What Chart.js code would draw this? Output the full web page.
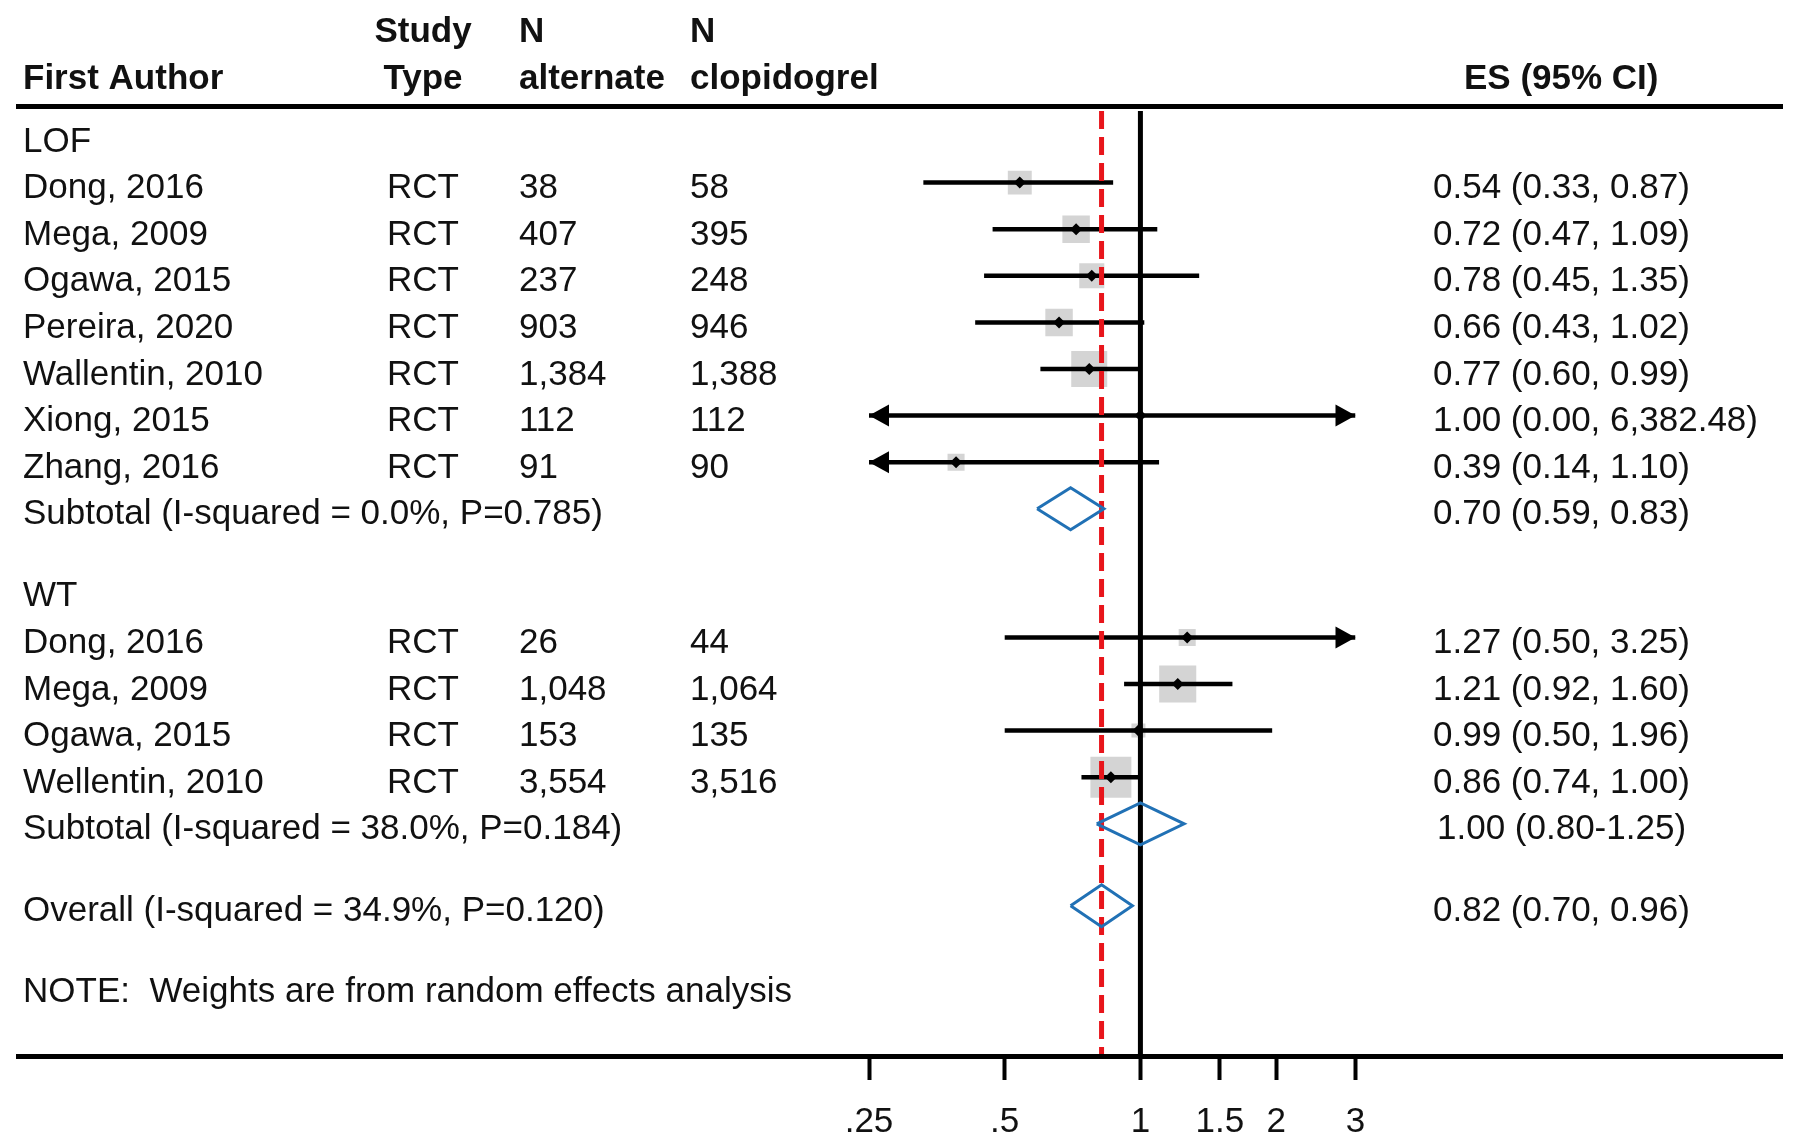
<!DOCTYPE html>
<html>
<head>
<meta charset="utf-8">
<script src="https://cdn.jsdelivr.net/npm/chart.js@4.4.1/dist/chart.umd.min.js"></script>
<style>
  html, body { margin: 0; padding: 0; background: #fff; }
  #wrap { position: relative; width: 1800px; height: 1148px; }
</style>
</head>
<body>
<div id="wrap"><canvas id="forest" width="1800" height="1148"></canvas></div>
<script>
// forest plot: alternate antiplatelet vs clopidogrel, by genotype (LOF / WT)

const GROUPS = ['LOF', 'WT'];

const AUTHORS = ['Dong, 2016', 'Mega, 2009', 'Ogawa, 2015', 'Pereira, 2020', 'Wallentin, 2010', 'Xiong, 2015', 'Zhang, 2016',
                 'Dong, 2016', 'Mega, 2009', 'Ogawa, 2015', 'Wellentin, 2010'];
const STUDY_GROUP = [0, 0, 0, 0, 0, 0, 0, 1, 1, 1, 1];
const STUDY_TYPE  = ['RCT', 'RCT', 'RCT', 'RCT', 'RCT', 'RCT', 'RCT', 'RCT', 'RCT', 'RCT', 'RCT'];
const N_ALT  = ['38', '407', '237', '903', '1,384', '112', '91', '26', '1,048', '153', '3,554'];
const N_CLOP = ['58', '395', '248', '946', '1,388', '112', '90', '44', '1,064', '135', '3,516'];
const ES     = [0.54, 0.72, 0.78, 0.66, 0.77, 1.00, 0.39, 1.27, 1.21, 0.99, 0.86];
const CI_LO  = [0.33, 0.47, 0.45, 0.43, 0.60, 0.00, 0.14, 0.50, 0.92, 0.50, 0.74];
const CI_HI  = [0.87, 1.09, 1.35, 1.02, 0.99, 6382.48, 1.10, 3.25, 1.60, 1.96, 1.00];
// % weights, estimated from the grey box areas
const WEIGHTS = [7.3, 9.6, 8.0, 9.6, 16.5, 0.1, 3.7, 3.7, 17.5, 2.5, 21.4];
const ES_TEXT = ['0.54 (0.33, 0.87)', '0.72 (0.47, 1.09)', '0.78 (0.45, 1.35)', '0.66 (0.43, 1.02)',
                 '0.77 (0.60, 0.99)', '1.00 (0.00, 6,382.48)', '0.39 (0.14, 1.10)',
                 '1.27 (0.50, 3.25)', '1.21 (0.92, 1.60)', '0.99 (0.50, 1.96)', '0.86 (0.74, 1.00)'];

const SUB_LABELS = ['Subtotal (I-squared = 0.0%, P=0.785)', 'Subtotal (I-squared = 38.0%, P=0.184)'];
const SUB_ES   = [0.70, 1.00];
const SUB_LO   = [0.59, 0.80];
const SUB_HI   = [0.83, 1.25];
const SUB_TEXT = ['0.70 (0.59, 0.83)', '1.00 (0.80-1.25)'];

const OVERALL_LABEL = 'Overall (I-squared = 34.9%, P=0.120)';
const OVERALL_ES = 0.82, OVERALL_LO = 0.70, OVERALL_HI = 0.96;
const OVERALL_TEXT = '0.82 (0.70, 0.96)';
const NOTE_TEXT = 'NOTE:  Weights are from random effects analysis';

const TICK_VALUES = [0.25, 0.5, 1, 1.5, 2, 3];
const TICK_LABELS = ['.25', '.5', '1', '1.5', '2', '3'];
const X_MIN = 0.25, X_MAX = 3;

// ── layout (row units, row 0 = "LOF") ────────────
const ROW_PX   = 46.6;
const ROW0_PX  = 136;
const GAP      = 0.76;            // extra space between blocks
const Y_MIN    = (111 - ROW0_PX) / ROW_PX;
const Y_MAX    = (1056 - ROW0_PX) / ROW_PX;
const FONT     = '"Liberation Sans", Arial, Helvetica, sans-serif';
const FONT_PX  = 35;
const COL = { author: 23, type: 423, nAlt: 519, nClop: 690, es: 1433, esHead: 1464 };

const rows = [];
let r = 0;
GROUPS.forEach((g, gi) => {
  if (gi > 0) r += GAP;
  rows.push({ kind: 'group', gi, y: r }); r += 1;
  STUDY_GROUP.forEach((sg, si) => {
    if (sg === gi) { rows.push({ kind: 'study', si, y: r }); r += 1; }
  });
  rows.push({ kind: 'sub', gi, y: r }); r += 1;
});
r += GAP - 1;
rows.push({ kind: 'overall', y: r + 1 });
rows.push({ kind: 'note', y: r + 1 + 1 + GAP - 0.04 });

const studyRow = {};
const subRow = {};
let overallRow = 0;
rows.forEach(o => {
  if (o.kind === 'study') studyRow[o.si] = o.y;
  if (o.kind === 'sub') subRow[o.gi] = o.y;
  if (o.kind === 'overall') overallRow = o.y;
});

const clampX = v => Math.min(Math.max(v, X_MIN), X_MAX);
const BOX_K = 8.86;   // px per sqrt(weight)

// ── datasets ─────────────────────────────────────
const boxData = AUTHORS.map((_, i) => ({ x: ES[i], y: studyRow[i] }));
const boxRadius = WEIGHTS.map(w => BOX_K * Math.sqrt(w) / Math.SQRT2);

const ciSets = AUTHORS.map((_, i) => ({
  type: 'line',
  data: [{ x: clampX(CI_LO[i]), y: studyRow[i] }, { x: clampX(CI_HI[i]), y: studyRow[i] }],
  borderColor: '#000',
  borderWidth: 4.5,
  pointRadius: 0,
  order: 4,
}));

const DIAMOND_H = 0.45;
function diamond(lo, es, hi, y) {
  return {
    type: 'line',
    data: [{ x: lo, y }, { x: es, y: y - DIAMOND_H }, { x: hi, y }, { x: es, y: y + DIAMOND_H }, { x: lo, y }],
    borderColor: '#2171b5',
    borderWidth: 3,
    pointRadius: 0,
    fill: false,
    tension: 0,
    order: 2,
  };
}

const datasets = [
  {
    type: 'scatter',
    data: boxData,
    pointStyle: 'rect',
    pointRadius: boxRadius,
    backgroundColor: '#d4d4d4',
    borderWidth: 0,
    order: 6,
  },
  {
    type: 'line',
    data: [{ x: 1, y: Y_MIN }, { x: 1, y: Y_MAX }],
    borderColor: '#000',
    borderWidth: 5,
    pointRadius: 0,
    order: 5,
  },
  ...ciSets,
  {
    type: 'line',
    data: [{ x: OVERALL_ES, y: Y_MIN }, { x: OVERALL_ES, y: Y_MAX }],
    borderColor: '#e8151b',
    borderWidth: 5,
    borderDash: [18, 8],
    pointRadius: 0,
    order: 3,
  },
  diamond(SUB_LO[0], SUB_ES[0], SUB_HI[0], subRow[0]),
  diamond(SUB_LO[1], SUB_ES[1], SUB_HI[1], subRow[1]),
  diamond(OVERALL_LO, OVERALL_ES, OVERALL_HI, overallRow),
  {
    type: 'scatter',
    data: boxData,
    pointStyle: 'rectRot',
    pointRadius: 6,
    backgroundColor: '#000',
    borderWidth: 0,
    order: 1,
  },
];

// arrows where the CI runs off the axis
const arrowPlugin = {
  id: 'ciArrows',
  afterDatasetsDraw(chart) {
    const { ctx, scales: { x, y } } = chart;
    ctx.save();
    ctx.fillStyle = '#000';
    AUTHORS.forEach((_, i) => {
      const py = y.getPixelForValue(studyRow[i]);
      if (CI_LO[i] < X_MIN) {
        const tip = x.getPixelForValue(X_MIN);
        ctx.beginPath();
        ctx.moveTo(tip, py); ctx.lineTo(tip + 20, py - 11); ctx.lineTo(tip + 20, py + 11);
        ctx.closePath(); ctx.fill();
      }
      if (CI_HI[i] > X_MAX) {
        const tip = x.getPixelForValue(X_MAX);
        ctx.beginPath();
        ctx.moveTo(tip, py); ctx.lineTo(tip - 20, py - 11); ctx.lineTo(tip - 20, py + 11);
        ctx.closePath(); ctx.fill();
      }
    });
    ctx.restore();
  },
};

// table text and the two horizontal rules
const tablePlugin = {
  id: 'forestTable',
  afterDraw(chart) {
    const { ctx, scales: { y } } = chart;
    const ty = v => y.getPixelForValue(v) + 6;
    ctx.save();
    ctx.fillStyle = '#000';
    ctx.fillRect(16, 104, 1767, 5);
    ctx.fillRect(16, 1054, 1767, 5);

    ctx.fillStyle = '#111';
    ctx.textBaseline = 'middle';
    ctx.font = `bold ${FONT_PX}px ${FONT}`;
    ctx.textAlign = 'center';
    ctx.fillText('Study', COL.type, 32);
    ctx.fillText('Type', COL.type, 79);
    ctx.textAlign = 'left';
    ctx.fillText('First Author', COL.author, 79);
    ctx.fillText('N', COL.nAlt, 32);
    ctx.fillText('alternate', COL.nAlt, 79);
    ctx.fillText('N', COL.nClop, 32);
    ctx.fillText('clopidogrel', COL.nClop, 79);
    ctx.fillText('ES (95% CI)', COL.esHead, 79);

    ctx.font = `${FONT_PX}px ${FONT}`;
    rows.forEach(o => {
      const py = ty(o.y);
      ctx.textAlign = 'left';
      if (o.kind === 'group') {
        ctx.fillText(GROUPS[o.gi], COL.author, py);
      } else if (o.kind === 'study') {
        const i = o.si;
        ctx.fillText(AUTHORS[i], COL.author, py);
        ctx.fillText(N_ALT[i], COL.nAlt, py);
        ctx.fillText(N_CLOP[i], COL.nClop, py);
        ctx.fillText(ES_TEXT[i], COL.es, py);
        ctx.textAlign = 'center';
        ctx.fillText(STUDY_TYPE[i], COL.type, py);
      } else if (o.kind === 'sub') {
        ctx.fillText(SUB_LABELS[o.gi], COL.author, py);
        ctx.fillText(SUB_TEXT[o.gi], COL.es + (o.gi === 1 ? 4 : 0), py);
      } else if (o.kind === 'overall') {
        ctx.fillText(OVERALL_LABEL, COL.author, py);
        ctx.fillText(OVERALL_TEXT, COL.es, py);
      } else if (o.kind === 'note') {
        ctx.fillText(NOTE_TEXT, COL.author, py);
      }
    });
    ctx.restore();
  },
};

new Chart(document.getElementById('forest').getContext('2d'), {
  data: { datasets },
  options: {
    responsive: false,
    devicePixelRatio: 1,
    animation: false,
    events: [],
    layout: { padding: { left: 869, right: 444.5, top: 111, bottom: 0 } },
    plugins: { legend: { display: false }, tooltip: { enabled: false } },
    scales: {
      x: {
        type: 'logarithmic',
        position: 'bottom',
        min: X_MIN,
        max: X_MAX,
        afterBuildTicks: s => { s.ticks = TICK_VALUES.map(v => ({ value: v })); },
        afterFit: s => { s.height = 1148 - 1056; },
        border: { display: false },
        grid: {
          display: true, drawOnChartArea: false, drawTicks: true,
          tickLength: 24, tickWidth: 4, tickColor: '#000', color: '#000',
        },
        ticks: {
          color: '#111',
          font: { family: FONT, size: FONT_PX },
          padding: 21,
          maxRotation: 0,
          autoSkip: false,
          callback: (v, i) => TICK_LABELS[i],
        },
      },
      y: {
        type: 'linear',
        reverse: true,
        min: Y_MIN,
        max: Y_MAX,
        display: false,
      },
    },
  },
  plugins: [arrowPlugin, tablePlugin],
});
</script>
</body>
</html>
